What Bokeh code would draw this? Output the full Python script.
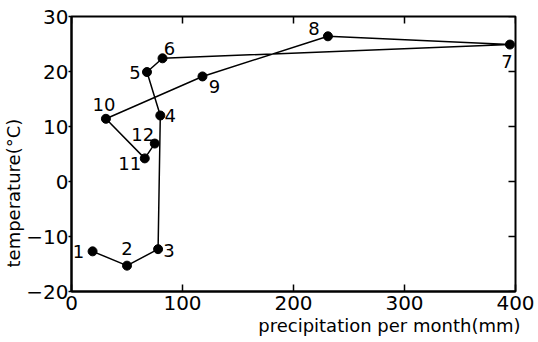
import math
from bokeh.plotting import figure
from bokeh.models import ColumnDataSource, Range1d, LinearAxis, Title, FixedTicker
from bokeh.core.properties import value
from bokeh.embed import file_html
from bokeh.resources import INLINE

# ---- data ----
months = ["1", "2", "3", "4", "5", "6", "7", "8", "9", "10", "11", "12"]
precip = [19, 50, 78, 80, 68, 82, 395, 231, 118, 31, 66, 75]
temp = [-12.7, -15.3, -12.3, 12.0, 19.9, 22.4, 24.9, 26.4, 19.1, 11.4, 4.2, 6.9]
x_ticks = [0, 100, 200, 300, 400]
y_ticks = [-20, -10, 0, 10, 20, 30]
x_title = "precipitation per month(mm)"
y_title = "temperature(\u00b0C)"

# ---- label placement (screen px, layout only) ----
label_dx = [-14, 0, 11, 10, -12, 7, -3, -14, 12, -2, -15, -12]
label_dy = [0, -17, 1, 0, 0, -10, 17, -8, 10, -14, 5, -9]

NARROW = "Liberation Sans Narrow, DejaVu Sans"
SANS = "DejaVu Sans"

x_lo, x_hi = x_ticks[0], x_ticks[-1]
y_lo, y_hi = y_ticks[0], y_ticks[-1]

p = figure(width=538, height=342, output_backend="svg", toolbar_location=None,
           x_range=Range1d(x_lo, x_hi), y_range=Range1d(y_lo, y_hi),
           min_border_left=70, min_border_right=23, min_border_top=16,
           min_border_bottom=51, x_axis_location=None, y_axis_location=None)
p.xgrid.visible = False
p.ygrid.visible = False
p.outline_line_color = "black"
p.outline_line_width = 2
p.background_fill_color = "white"
p.border_fill_color = "white"

def style_axis(ax, ticks, t_in, t_out, standoff):
    ax.ticker = FixedTicker(ticks=ticks)
    ax.axis_line_color = "black"
    ax.axis_line_width = 2
    ax.major_tick_line_color = "black"
    ax.major_tick_line_width = 1.5
    ax.major_tick_in = t_in
    ax.major_tick_out = t_out
    ax.minor_tick_line_color = None
    ax.major_label_text_font = NARROW
    ax.major_label_text_color = "black"
    ax.major_label_text_font_size = "20px"
    ax.major_label_standoff = standoff

xb = LinearAxis()
style_axis(xb, x_ticks, 7, 0, 4)
p.add_layout(xb, "below")

yl = LinearAxis()
style_axis(yl, y_ticks, 0, 3, 0)
p.add_layout(yl, "left")

# inner ticks on the top and right frame edges (clipped to the frame)
p.scatter(x_ticks, [y_hi] * len(x_ticks), marker="dash", angle=math.pi / 2,
          size=14, line_color="black", line_width=1.5)
p.scatter([x_hi] * len(y_ticks), y_ticks, marker="dash",
          size=14, line_color="black", line_width=1.5)

src = ColumnDataSource(dict(x=precip, y=temp, m=months, dx=label_dx, dy=label_dy))

p.line("x", "y", source=src, line_color="black", line_width=1.5)
p.scatter("x", "y", source=src, size=9, fill_color="black", line_color="black")
p.text("x", "y", text="m", source=src, x_offset="dx", y_offset="dy",
       text_align="center", text_baseline="middle",
       text_font=value(NARROW), text_font_size="18px", text_color="black")

p.add_layout(Title(text=x_title, align="right", offset=-5, standoff=0,
                   text_font=SANS, text_font_size="18px",
                   text_font_style="normal", text_color="black"), "below")
p.add_layout(Title(text=y_title, align="left", offset=24, standoff=0,
                   text_font=SANS, text_font_size="18px",
                   text_font_style="normal", text_color="black"), "left")

open("out.html", "w").write(file_html(p, INLINE))
